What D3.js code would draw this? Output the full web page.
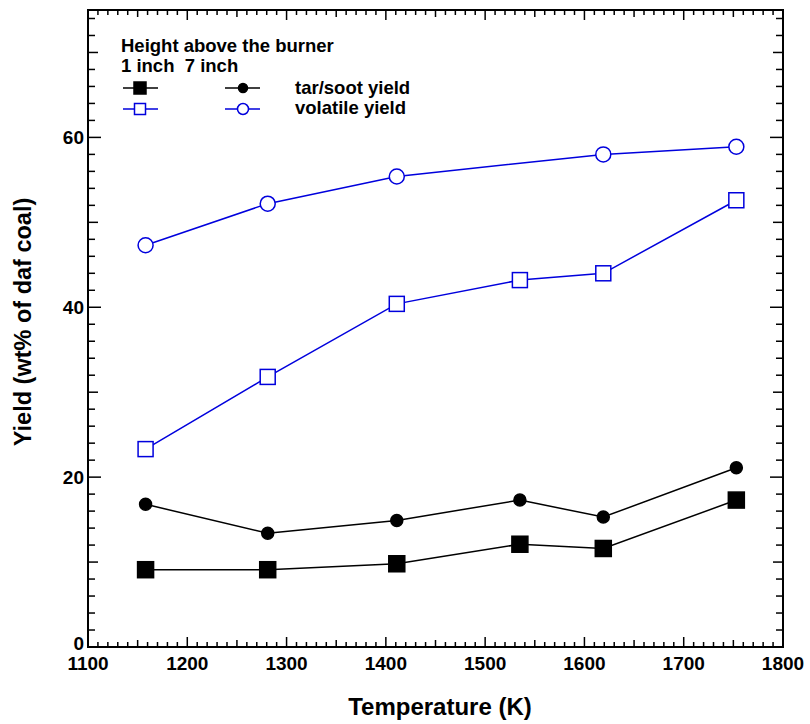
<!DOCTYPE html>
<html lang="en">
<head>
<meta charset="UTF-8">
<title>Yield vs temperature</title>
<style>
  body { margin: 0; background: #fff; }
  text { font-family: "Liberation Sans", Arial, sans-serif; font-weight: bold; white-space: pre; }
</style>
<script src="https://d3js.org/d3.v7.min.js"></script>
</head>
<body>
<script>
// data
var tempK = [1158, 1281, 1411, 1535, 1619, 1753];
var tempCircle = [1158, 1281, 1411, 1619, 1753];
var tar1inch = [9.1, 9.1, 9.8, 12.1, 11.6, 17.3];
var tar7inch = [16.8, 13.4, 14.9, 17.3, 15.3, 21.1];
var vol1inch = [23.3, 31.8, 40.4, 43.2, 44.0, 52.6];
var vol7inch = [47.3, 52.2, 55.4, 58.0, 58.9];
var xTicks = [1100, 1200, 1300, 1400, 1500, 1600, 1700, 1800];
var yTicks = [0, 20, 40, 60];

var width = 810, height = 724;
var mLeft = 88, mRight = 783, mTop = 10, mBottom = 647;

var svg = d3.select("body").append("svg")
  .attr("width", width)
  .attr("height", height);

var x = d3.scaleLinear().domain([1100, 1800]).range([mLeft, mRight]);
var y = d3.scaleLinear().domain([0, 75]).range([mBottom, mTop]);

// ticks, all pointing inward
var tk = svg.append("g").attr("stroke", "#000").attr("stroke-width", 1.5);
d3.range(1100, 1801, 10).forEach(function (v) {
  var len = v % 100 === 0 ? 10 : (v % 50 === 0 ? 7 : 5);
  tk.append("line").attr("x1", x(v)).attr("x2", x(v))
    .attr("y1", mBottom).attr("y2", mBottom - len);
  tk.append("line").attr("x1", x(v)).attr("x2", x(v))
    .attr("y1", mTop).attr("y2", mTop + len);
});
d3.range(0, 75, 2).forEach(function (v) {
  var len = v % 20 === 0 ? 13 : (v % 10 === 0 ? 10 : 7);
  tk.append("line").attr("y1", y(v)).attr("y2", y(v))
    .attr("x1", mLeft).attr("x2", mLeft + len);
  tk.append("line").attr("y1", y(v)).attr("y2", y(v))
    .attr("x1", mRight).attr("x2", mRight - len);
});

svg.append("rect")
  .attr("x", mLeft).attr("y", mTop)
  .attr("width", mRight - mLeft).attr("height", mBottom - mTop)
  .attr("fill", "none").attr("stroke", "#000").attr("stroke-width", 2);

svg.selectAll(".xl").data(xTicks).enter().append("text")
  .attr("x", function (d) { return x(d); })
  .attr("y", mBottom + 23)
  .attr("text-anchor", "middle")
  .style("font-size", "19px")
  .text(function (d) { return d; });

svg.selectAll(".yl").data(yTicks).enter().append("text")
  .attr("x", mLeft - 4)
  .attr("y", function (d) { return y(d) + (d === 0 ? 3 : 7); })
  .attr("text-anchor", "end")
  .style("font-size", "19px")
  .text(function (d) { return d; });

svg.append("text")
  .attr("x", 440).attr("y", 715)
  .attr("text-anchor", "middle")
  .style("font-size", "24px")
  .text("Temperature (K)");

svg.append("text")
  .attr("transform", "translate(31,322) rotate(-90)")
  .attr("text-anchor", "middle")
  .style("font-size", "23.5px")
  .text("Yield (wt% of daf coal)");

var line = d3.line()
  .x(function (d) { return x(d[0]); })
  .y(function (d) { return y(d[1]); });

function series(xs, ys, color, shape, filled, size) {
  var pts = d3.zip(xs, ys);
  svg.append("path").datum(pts)
    .attr("d", line)
    .attr("fill", "none")
    .attr("stroke", color)
    .attr("stroke-width", 1.5);
  var g = svg.append("g");
  pts.forEach(function (p) {
    drawMarker(g, x(p[0]), y(p[1]), color, shape, filled, size);
  });
}

function drawMarker(g, cx, cy, color, shape, filled, size) {
  if (shape === "square") {
    g.append("rect")
      .attr("x", cx - size / 2).attr("y", cy - size / 2)
      .attr("width", size).attr("height", size)
      .attr("fill", filled ? color : "#fff")
      .attr("stroke", color).attr("stroke-width", 1.5);
  } else {
    g.append("circle")
      .attr("cx", cx).attr("cy", cy).attr("r", size / 2)
      .attr("fill", filled ? color : "#fff")
      .attr("stroke", color).attr("stroke-width", 1.5);
  }
}

var blue = "#0000dd";
series(tempK, tar1inch, "#000", "square", true, 16);
series(tempK, tar7inch, "#000", "circle", true, 12);
series(tempK, vol1inch, blue, "square", false, 15);
series(tempCircle, vol7inch, blue, "circle", false, 15);

// legend
var lg = svg.append("g");
lg.append("text").attr("x", 121).attr("y", 52).style("font-size", "18.5px")
  .text("Height above the burner");
lg.append("text").attr("x", 121).attr("y", 72).style("font-size", "18.5px")
  .text("1 inch  7 inch");
var rows = [
  { label: "tar/soot yield", color: "#000", filled: true, y: 88, ty: 94 },
  { label: "volatile yield", color: blue, filled: false, y: 109, ty: 114 }
];
rows.forEach(function (r) {
  lg.append("line").attr("x1", 123).attr("x2", 158).attr("y1", r.y).attr("y2", r.y)
    .attr("stroke", r.color).attr("stroke-width", 1.5);
  drawMarker(lg, 140, r.y, r.color, "square", r.filled, r.filled ? 12 : 11);
  lg.append("line").attr("x1", 225).attr("x2", 260).attr("y1", r.y).attr("y2", r.y)
    .attr("stroke", r.color).attr("stroke-width", 1.5);
  drawMarker(lg, 243, r.y, r.color, "circle", r.filled, r.filled ? 9 : 11);
  lg.append("text").attr("x", 295).attr("y", r.ty).style("font-size", "18.5px")
    .text(r.label);
});
</script>
</body>
</html>
